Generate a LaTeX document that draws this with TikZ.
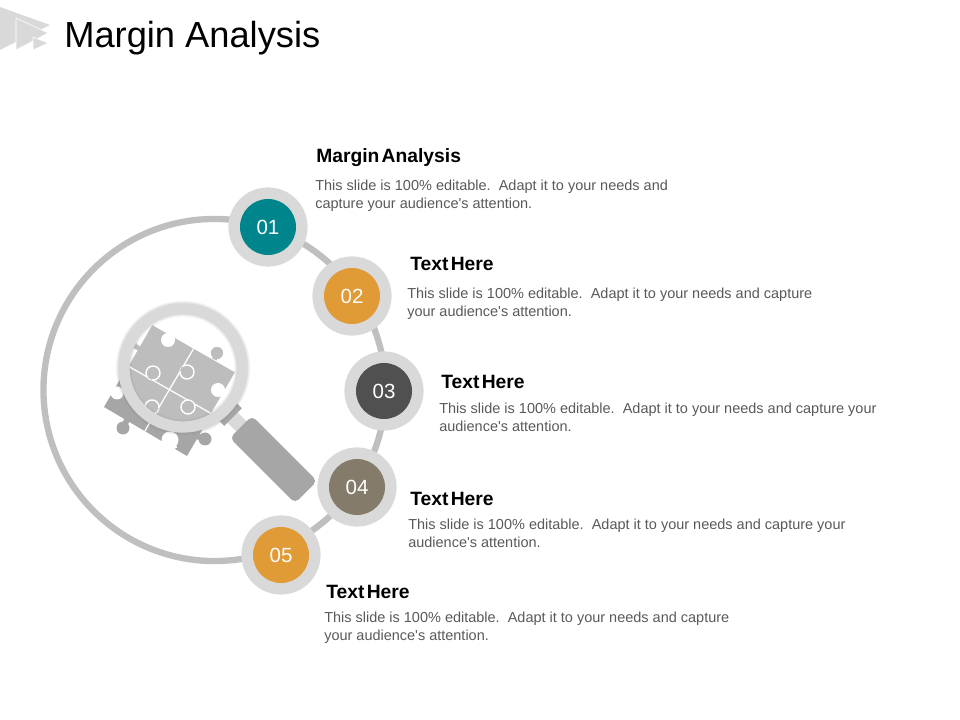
\documentclass[tikz,border=0pt]{standalone}
\usepackage{fontspec}
\setmainfont{Liberation Sans}
\definecolor{ringgray}{HTML}{BFBFBF}
\definecolor{halogray}{HTML}{D9D9D9}
\definecolor{bodygray}{HTML}{595959}
\definecolor{tealdot}{HTML}{00858C}
\definecolor{amberdot}{HTML}{E09A36}
\definecolor{darkdot}{HTML}{505050}
\definecolor{taupedot}{HTML}{857B6A}
\definecolor{piecedark}{HTML}{A6A6A6}
\definecolor{piecelight}{HTML}{BDBDBD}
\newcommand{\tightgap}{\hspace{0.12em}}
% tab of a puzzle piece: centre, mouth, radius
\newcommand{\lighttab}[3]{
  \draw[white,line width=5pt,shorten >=1pt] #1 -- #2;
  \draw[cutout] #1 circle (#3);
  \draw[piecelight,line width=3.4pt] #1 -- #2;
}
\newcommand{\hole}[3]{
  \fill[white] #1 circle (#3);
  \draw[white,line width=5pt] #1 -- #2;
}
\newcommand{\darktab}[3]{
  \fill[piecedark] #1 circle (#3);
  \draw[piecedark,line width=4pt] #1 -- #2;
}
\tikzset{
  halo/.style={circle,fill=halogray,minimum size=1.98cm,inner sep=0pt},
  dot/.style={circle,minimum size=1.4cm,inner sep=0pt,text=white,font=\fontsize{14.6pt}{16pt}\selectfont},
  head/.style={anchor=west,inner sep=0pt,font=\fontsize{13.7pt}{16pt}\selectfont\bfseries},
  body/.style={anchor=west,inner sep=0pt,align=left,text=bodygray,font=\fontsize{10.3pt}{12.8pt}\selectfont},
  cutout/.style={draw=white,line width=1pt,fill=piecelight},
  seam/.style={white,line width=0.9pt},
}
\begin{document}
\begin{tikzpicture}[x=0.025cm,y=-0.025cm]
  \useasboundingbox (0,0) rectangle (960,720);
  % logo and title
  \fill[halogray] (0,7) -- (50,25) -- (0,50) -- cycle;
  \draw[white,fill=halogray] (16,18) -- (48,33) -- (16,50) -- cycle;
  \draw[white,fill=halogray] (33,37) -- (48,43) -- (33,50) -- cycle;
  \node(title)[anchor=west,inner sep=0pt,font=\fontsize{25.8pt}{30pt}\selectfont] at (64,38) {Margin Analysis};
  % big ring
  \node(ring)[draw=ringgray,line width=4.5pt,circle,minimum size=8.55cm,inner sep=0pt] at (214.5,390) {};
  % numbered dots
  \node(a)[halo] at (268,227) {};
  \node(b)[halo] at (352,296) {};
  \node(c)[halo] at (384,391) {};
  \node(d)[halo] at (357,487) {};
  \node(e)[halo] at (281,555) {};
  \node(adot)[dot,fill=tealdot] at (a) {01};
  \node(bdot)[dot,fill=amberdot] at (b) {02};
  \node(cdot)[dot,fill=darkdot] at (c) {03};
  \node(ddot)[dot,fill=taupedot] at (d) {04};
  \node(edot)[dot,fill=amberdot] at (e) {05};
  % texts
  \node(ahead)[head] at (316,158) {Margin\tightgap Analysis};
  \node(abody)[body] at (315,196) {This slide is 100\% editable.\ \ Adapt it to your needs and\\capture your audience\textquotesingle s attention.};
  \node(bhead)[head] at (410,264) {Text\tightgap Here};
  \node(bbody)[body] at (407,304) {This slide is 100\% editable.\ \ Adapt it to your needs and capture\\your audience\textquotesingle s attention.};
  \node(chead)[head] at (441,382) {Text\tightgap Here};
  \node(cbody)[body] at (439,417) {This slide is 100\% editable.\ \ Adapt it to your needs and capture your\\audience\textquotesingle s attention.};
  \node(dhead)[head] at (410,499) {Text\tightgap Here};
  \node(dbody)[body] at (408,533) {This slide is 100\% editable.\ \ Adapt it to your needs and capture your\\audience\textquotesingle s attention.};
  \node(ehead)[head] at (326,592) {Text\tightgap Here};
  \node(ebody)[body] at (324,628) {This slide is 100\% editable.\ \ Adapt it to your needs and capture\\your audience\textquotesingle s attention.};
  % handle of the glass
  \node(neck)[fill=halogray,rotate=-45,minimum width=0.55cm,minimum height=0.36cm,inner sep=0pt] at (239,424) {};
  \node(collar)[fill=piecedark,rotate=-45,minimum width=0.22cm,minimum height=0.62cm,inner sep=0pt] at (230,414) {};
  \node(grip)[fill=piecedark,rotate=-45,rounded corners=3.5pt,minimum width=2.3cm,minimum height=0.78cm,inner sep=0pt] at (273.5,459.5) {};
  % puzzle outside the glass
  \fill[piecedark] (152,324) -- (236,372) -- (187,456) -- (104,407) -- cycle;
  \darktab{(123,428)}{(127,420)}{6.5}
  \darktab{(205,439)}{(196,436)}{6.5}
  \hole{(117,393)}{(111,390)}{6.5}
  \hole{(170,440)}{(174,449)}{8.5}
  \draw[seam] (145,431) -- (150,422);
  % soft edge and inside of the glass
  \fill[gray,opacity=0.12] (183,368) circle (67);
  \fill[gray,opacity=0.15] (183,368) circle (65.5);
  \fill[white] (183,368) circle (60);
  \begin{scope}
    \clip (183,368) circle (56);
    \draw[cutout] (152,324) -- (236,372) -- (187,456) -- (104,407) -- cycle;
    \draw[seam] (194,348) -- (145,431);
    \draw[seam] (128,366) -- (212,414);
    \lighttab{(217,353)}{(214.5,359.5)}{7}
    \lighttab{(187,372)}{(181,368.5)}{7}
    \lighttab{(153,373)}{(149.8,378.6)}{7}
    \lighttab{(188,407)}{(191,401.8)}{7}
    \lighttab{(152,407)}{(157.5,410.3)}{7}
    \lighttab{(133,345)}{(140,349)}{5}
    \hole{(168,340)}{(171.2,334.4)}{7}
    \hole{(218,390)}{(223.6,393.3)}{7}
  \end{scope}
  \draw[gray,opacity=0.12,line width=2pt] (183,368) circle (53);
  \node(lens)[draw=halogray,line width=8pt,circle,minimum size=2.95cm,inner sep=0pt] at (183,368) {};
\end{tikzpicture}
\end{document}
